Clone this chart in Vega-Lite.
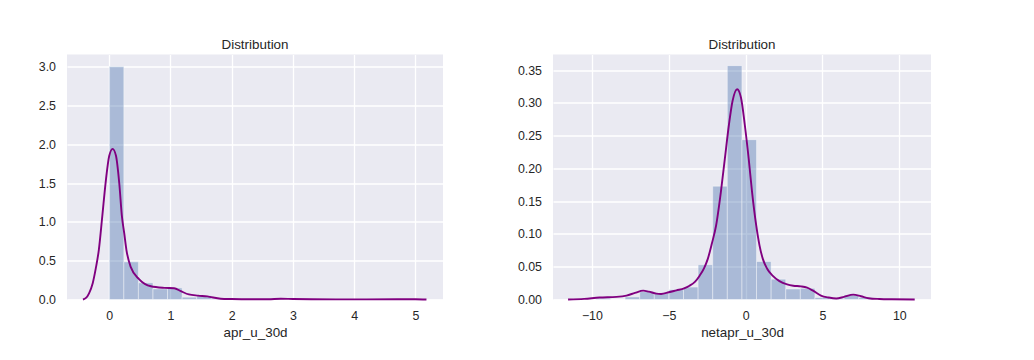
{
  "$schema": "https://vega.github.io/schema/vega-lite/v6.json",
  "padding": {"left": 27, "top": 37.5, "right": 10, "bottom": 5},
  "background": "white",
  "spacing": 70,
  "config": {
    "font": "Liberation Sans",
    "view": {"fill": "#EAEAF2", "stroke": null},
    "axis": {
      "domain": false,
      "ticks": false,
      "grid": true,
      "gridColor": "#FFFFFF",
      "gridWidth": 1.3,
      "labelFont": "Liberation Sans",
      "labelFontSize": 12.4,
      "labelColor": "#262626",
      "titleFont": "Liberation Sans",
      "titleFontSize": 13.4,
      "titleFontWeight": "normal",
      "titleColor": "#262626"
    },
    "axisX": {"labelPadding": 9.5, "titlePadding": 4.5},
    "axisY": {"labelPadding": 11.5, "minExtent": 40, "maxExtent": 40},
    "title": {"font": "Liberation Sans", "fontSize": 13.4, "fontWeight": "normal", "color": "#262626", "baseline": "alphabetic", "offset": 3.5}
  },
  "datasets": {
    "hist1": [
      {"x": 0.0, "xe": 0.238, "y": 3.0},
      {"x": 0.238, "xe": 0.476, "y": 0.485},
      {"x": 0.476, "xe": 0.714, "y": 0.215},
      {"x": 0.714, "xe": 0.952, "y": 0.137},
      {"x": 0.952, "xe": 1.19, "y": 0.15},
      {"x": 1.19, "xe": 1.428, "y": 0.03},
      {"x": 1.428, "xe": 1.666, "y": 0.05},
      {"x": 1.666, "xe": 1.904, "y": 0.012},
      {"x": 1.904, "xe": 2.142, "y": 0.008},
      {"x": 2.618, "xe": 2.856, "y": 0.012},
      {"x": 4.76, "xe": 4.998, "y": 0.004}
    ],
    "kde1": [
      {"x": -0.43, "y": 0.0},
      {"x": -0.38, "y": 0.02},
      {"x": -0.33, "y": 0.08},
      {"x": -0.27, "y": 0.21},
      {"x": -0.22, "y": 0.4},
      {"x": -0.17, "y": 0.64},
      {"x": -0.114, "y": 1.07},
      {"x": -0.06, "y": 1.5},
      {"x": 0.0, "y": 1.85},
      {"x": 0.055, "y": 1.94},
      {"x": 0.11, "y": 1.85},
      {"x": 0.163, "y": 1.5},
      {"x": 0.207, "y": 1.07},
      {"x": 0.245, "y": 0.85},
      {"x": 0.28, "y": 0.64},
      {"x": 0.35, "y": 0.42},
      {"x": 0.49, "y": 0.26},
      {"x": 0.68, "y": 0.17},
      {"x": 0.9, "y": 0.15},
      {"x": 1.06, "y": 0.145},
      {"x": 1.17, "y": 0.107},
      {"x": 1.3, "y": 0.065},
      {"x": 1.45, "y": 0.05},
      {"x": 1.6, "y": 0.04},
      {"x": 1.82, "y": 0.01},
      {"x": 2.0, "y": 0.006},
      {"x": 2.3, "y": 0.003},
      {"x": 2.6, "y": 0.004},
      {"x": 2.8, "y": 0.01},
      {"x": 3.0, "y": 0.006},
      {"x": 3.3, "y": 0.003},
      {"x": 3.7, "y": 0.002},
      {"x": 4.2, "y": 0.002},
      {"x": 4.7, "y": 0.003},
      {"x": 5.0, "y": 0.003},
      {"x": 5.18, "y": 0.0}
    ],
    "hist2": [
      {"x": -9.74, "xe": -8.79, "y": 0.002},
      {"x": -7.84, "xe": -6.89, "y": 0.004},
      {"x": -6.89, "xe": -5.94, "y": 0.012},
      {"x": -5.94, "xe": -4.99, "y": 0.0095},
      {"x": -4.99, "xe": -4.04, "y": 0.015},
      {"x": -4.04, "xe": -3.09, "y": 0.019},
      {"x": -3.09, "xe": -2.14, "y": 0.053},
      {"x": -2.14, "xe": -1.19, "y": 0.173},
      {"x": -1.19, "xe": -0.24, "y": 0.357},
      {"x": -0.24, "xe": 0.71, "y": 0.244},
      {"x": 0.71, "xe": 1.66, "y": 0.058},
      {"x": 1.66, "xe": 2.61, "y": 0.031},
      {"x": 2.61, "xe": 3.56, "y": 0.016},
      {"x": 3.56, "xe": 4.51, "y": 0.017},
      {"x": 4.51, "xe": 5.46, "y": 0.003},
      {"x": 5.46, "xe": 6.41, "y": 0.002},
      {"x": 6.41, "xe": 7.36, "y": 0.007},
      {"x": 7.36, "xe": 8.31, "y": 0.003}
    ],
    "kde2": [
      {"x": -11.55, "y": 0.0},
      {"x": -10.5, "y": 0.001},
      {"x": -9.5, "y": 0.003},
      {"x": -8.4, "y": 0.004},
      {"x": -7.75, "y": 0.006},
      {"x": -7.2, "y": 0.01},
      {"x": -6.66, "y": 0.0135},
      {"x": -6.3, "y": 0.012},
      {"x": -5.8, "y": 0.009},
      {"x": -5.5, "y": 0.0085},
      {"x": -5.0, "y": 0.011},
      {"x": -4.5, "y": 0.014},
      {"x": -4.0, "y": 0.017},
      {"x": -3.65, "y": 0.021},
      {"x": -3.3, "y": 0.027},
      {"x": -3.0, "y": 0.036},
      {"x": -2.7, "y": 0.048},
      {"x": -2.46, "y": 0.062},
      {"x": -2.2, "y": 0.085},
      {"x": -1.92, "y": 0.113},
      {"x": -1.61, "y": 0.164},
      {"x": -1.35, "y": 0.215},
      {"x": -1.09, "y": 0.266},
      {"x": -0.85, "y": 0.303},
      {"x": -0.55, "y": 0.321},
      {"x": -0.3, "y": 0.308},
      {"x": -0.05, "y": 0.266},
      {"x": 0.2, "y": 0.215},
      {"x": 0.42, "y": 0.164},
      {"x": 0.69, "y": 0.113},
      {"x": 0.9, "y": 0.083},
      {"x": 1.12, "y": 0.062},
      {"x": 1.4, "y": 0.047},
      {"x": 1.77, "y": 0.036},
      {"x": 2.2, "y": 0.028},
      {"x": 2.7, "y": 0.023},
      {"x": 3.1, "y": 0.021},
      {"x": 3.6, "y": 0.02},
      {"x": 4.0, "y": 0.018},
      {"x": 4.38, "y": 0.0135},
      {"x": 4.9, "y": 0.006},
      {"x": 5.4, "y": 0.003},
      {"x": 5.9, "y": 0.0015},
      {"x": 6.4, "y": 0.004},
      {"x": 7.0, "y": 0.0074},
      {"x": 7.5, "y": 0.005},
      {"x": 8.0, "y": 0.002},
      {"x": 8.7, "y": 0.0008},
      {"x": 9.5, "y": 0.0003},
      {"x": 11.0, "y": 0.0}
    ]
  },
  "hconcat": [
    {
      "width": 376,
      "height": 245,
      "title": "Distribution",
      "encoding": {
        "x": {"field": "x", "type": "quantitative", "scale": {"domain": [-0.69, 5.45], "nice": false, "zero": false}, "axis": {"title": "apr_u_30d", "values": [0, 1, 2, 3, 4, 5], "format": "d"}},
        "y": {"field": "y", "type": "quantitative", "scale": {"domain": [0, 3.155], "nice": false}, "axis": {"title": null, "values": [0, 0.5, 1, 1.5, 2, 2.5, 3], "format": ".1f"}}
      },
      "layer": [
        {
          "data": {"name": "hist1"},
          "mark": {"type": "rect", "fill": "#4C72B0", "fillOpacity": 0.4, "stroke": "#FFFFFF", "strokeOpacity": 0.4, "strokeWidth": 1},
          "encoding": {"x2": {"field": "xe"}, "y2": {"datum": 0}}
        },
        {
          "data": {"name": "kde1"},
          "mark": {"type": "line", "color": "#800080", "strokeWidth": 1.9, "interpolate": "monotone"},
          "encoding": {}
        }
      ]
    },
    {
      "width": 378,
      "height": 245,
      "title": "Distribution",
      "encoding": {
        "x": {"field": "x", "type": "quantitative", "scale": {"domain": [-12.53, 12.06], "nice": false, "zero": false}, "axis": {"title": "netapr_u_30d", "values": [-10, -5, 0, 5, 10], "format": "d"}},
        "y": {"field": "y", "type": "quantitative", "scale": {"domain": [0, 0.374], "nice": false}, "axis": {"title": null, "values": [0, 0.05, 0.1, 0.15, 0.2, 0.25, 0.3, 0.35], "format": ".2f"}}
      },
      "layer": [
        {
          "data": {"name": "hist2"},
          "mark": {"type": "rect", "fill": "#4C72B0", "fillOpacity": 0.4, "stroke": "#FFFFFF", "strokeOpacity": 0.4, "strokeWidth": 1},
          "encoding": {"x2": {"field": "xe"}, "y2": {"datum": 0}}
        },
        {
          "data": {"name": "kde2"},
          "mark": {"type": "line", "color": "#800080", "strokeWidth": 1.9, "interpolate": "monotone"},
          "encoding": {}
        }
      ]
    }
  ]
}
